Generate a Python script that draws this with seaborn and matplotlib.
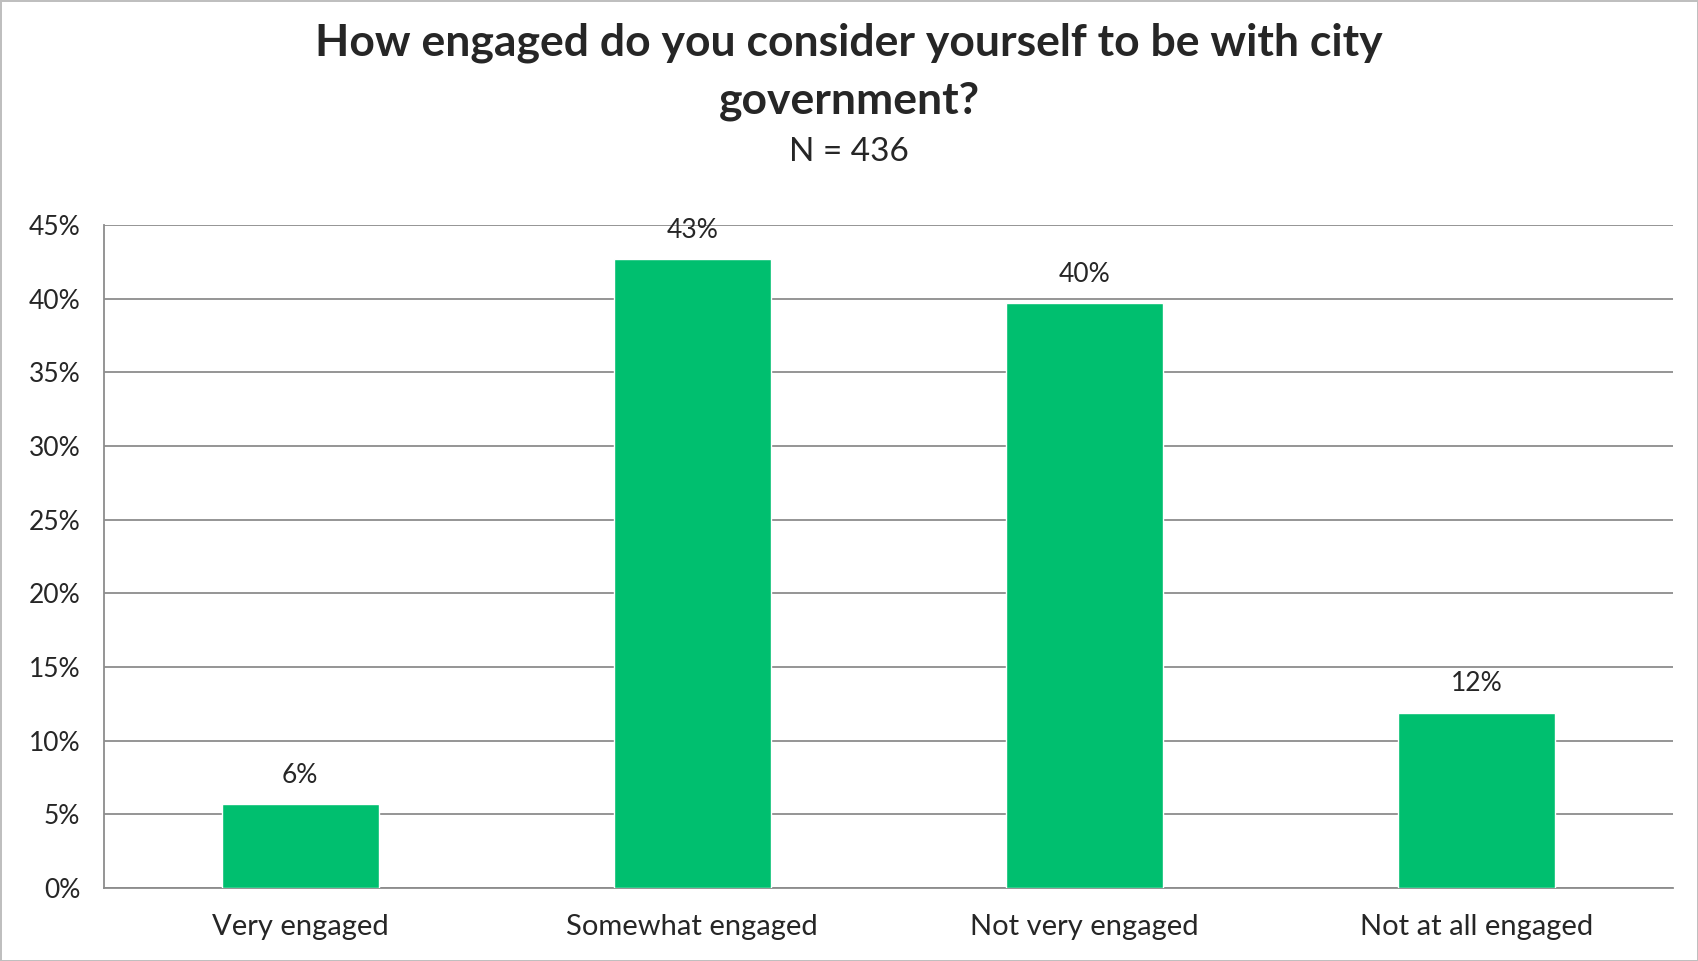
import matplotlib
matplotlib.use("Agg")
import matplotlib.pyplot as plt
import matplotlib.ticker as mticker
import pandas as pd
import seaborn as sns

# Survey responses (share of respondents, %)
categories = ["Very engaged", "Somewhat engaged", "Not very engaged", "Not at all engaged"]
shares = [5.7, 42.7, 39.7, 11.9]
labels = ["6%", "43%", "40%", "12%"]
y_ticks = [0, 5, 10, 15, 20, 25, 30, 35, 40, 45]

df = pd.DataFrame({"response": categories, "share": shares})

sns.set_style("white")
plt.rcParams["font.family"] = ["Lato", "DejaVu Sans"]

fig = plt.figure(figsize=(16.98, 9.61), dpi=100)
fig.patch.set_edgecolor("#bfbfbf")
fig.patch.set_linewidth(2)
ax = fig.add_axes([0.0612, 0.076, 0.9241, 0.690])

sns.barplot(data=df, x="response", y="share", color="#00BF6F", width=0.4,
            saturation=1, ax=ax, zorder=3)

ax.set_ylim(0, 45)
ax.set_xlim(-0.5, 3.5)
ax.set_yticks(y_ticks)
ax.yaxis.set_major_formatter(mticker.FuncFormatter(lambda v, p: f"{v:.0f}%"))
ax.grid(axis="y", color="#8c8c8c", linewidth=1.3, zorder=0)
ax.set_axisbelow(True)

for s in ["top", "right"]:
    ax.spines[s].set_visible(False)
for s in ["left", "bottom"]:
    ax.spines[s].set_color("#8c8c8c")
    ax.spines[s].set_linewidth(1.3)

# category separator ticks on x axis
ax.set_xticks([-0.5, 0.5, 1.5, 2.5, 3.5], minor=True)
ax.tick_params(axis="x", which="minor", length=9, color="#8c8c8c", width=1.3)
ax.tick_params(axis="x", which="major", length=0, pad=19, labelsize=21)
ax.tick_params(axis="y", length=9, color="#8c8c8c", width=1.3, pad=8, labelsize=19)
ax.set_xlabel("")
ax.set_ylabel("")

for i, (v, t) in enumerate(zip(shares, labels)):
    ax.text(i, v + 1.1, t, ha="center", va="bottom", fontsize=19)

fig.text(0.5, 0.955, "How engaged do you consider yourself to be with city",
         ha="center", va="center", fontsize=32, fontweight="bold")
fig.text(0.5, 0.895, "government?",
         ha="center", va="center", fontsize=32, fontweight="bold")
fig.text(0.5, 0.842, "N = 436", ha="center", va="center", fontsize=24)

fig.savefig("out.png", dpi=100)
